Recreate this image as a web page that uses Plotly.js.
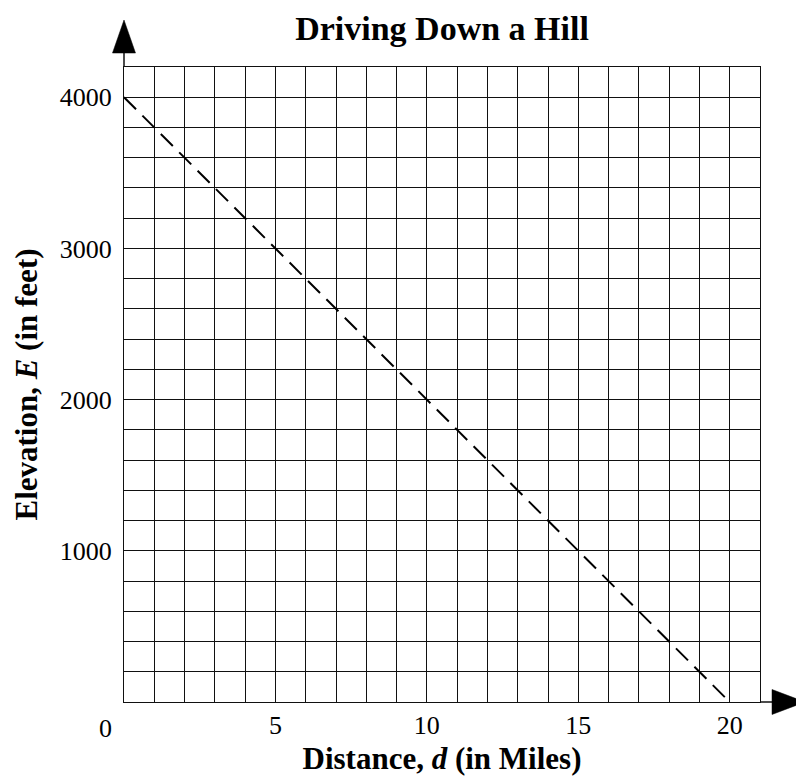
<!DOCTYPE html>
<html>
<head>
<meta charset="utf-8">
<script src="https://cdn.plot.ly/plotly-3.0.1.min.js"></script>
<style>html,body{margin:0;padding:0;background:#fff;}#chart{width:796px;height:781px;}</style>
</head>
<body>
<div id="chart"></div>
<script>
// Data
const distance = [0, 20];          // miles
const elevation = [4000, 0];       // feet
const xTickVals = [5, 10, 15, 20];
const xTickText = ['5', '10', '15', '20'];
const yTickVals = [1000, 2000, 3000, 4000];
const yTickText = ['1000', '2000', '3000', '4000'];
const titleText = 'Driving Down a Hill';
const xTitleText = 'Distance, <i>d</i> (in Miles)';
const yTitleText = 'Elevation, <i>E</i> (in feet)';

const SERIF = '"Liberation Serif", "Times New Roman", serif';
const INK = '#111';

const trace = {
  x: distance,
  y: elevation,
  type: 'scatter',
  mode: 'lines',
  line: {color: '#000', width: 2, dash: '17px,9px'},
  hoverinfo: 'skip',
  showlegend: false
};

const layout = {
  width: 796,
  height: 781,
  margin: {l: 124, r: 36, t: 67, b: 79, pad: 0},
  paper_bgcolor: '#fff',
  plot_bgcolor: '#fff',
  font: {family: SERIF, color: '#000', size: 26},
  title: {
    text: titleText,
    font: {family: SERIF, size: 34, color: '#000', weight: 'bold'},
    xref: 'paper', x: 0.5, xanchor: 'center',
    yref: 'container', y: 1 - 28 / 781, yanchor: 'middle'
  },
  xaxis: {
    range: [0, 21],
    tickmode: 'array', tickvals: xTickVals, ticktext: xTickText,
    ticks: '', showgrid: true, gridcolor: INK, gridwidth: 1,
    minor: {dtick: 1, tick0: 0, showgrid: true, gridcolor: INK, gridwidth: 1, ticks: ''},
    zeroline: false, showline: true, mirror: true, linecolor: INK, linewidth: 1,
    tickfont: {family: SERIF, size: 26, color: '#000'},
    ticklabelstandoff: 0,
    title: {text: xTitleText, font: {family: SERIF, size: 31, color: '#000', weight: 'bold'}, standoff: 8},
    fixedrange: true
  },
  yaxis: {
    range: [0, 4200],
    tickmode: 'array', tickvals: yTickVals, ticktext: yTickText,
    ticks: '', showgrid: true, gridcolor: INK, gridwidth: 1,
    minor: {dtick: 200, tick0: 0, showgrid: true, gridcolor: INK, gridwidth: 1, ticks: ''},
    zeroline: false, showline: true, mirror: true, linecolor: INK, linewidth: 1,
    tickfont: {family: SERIF, size: 26, color: '#000'},
    ticklabelstandoff: 6,
    title: {text: yTitleText, font: {family: SERIF, size: 31, color: '#000', weight: 'bold'}, standoff: 12},
    fixedrange: true
  },
  annotations: [{
    xref: 'x', yref: 'y', x: 0, y: 0,
    text: '0', showarrow: false,
    xanchor: 'right', yanchor: 'top', xshift: -10, yshift: -10,
    font: {family: SERIF, size: 26, color: '#000'}
  }],
  shapes: [
    // y-axis extension and arrowhead
    {type: 'line', xref: 'paper', yref: 'paper', x0: 0, x1: 0, y0: 1, y1: 1.024,
     line: {color: INK, width: 1.5}},
    {type: 'path', xref: 'paper', yref: 'paper',
     path: 'M -0.0181,1.022 L 0.0181,1.022 L 0,1.074 Z',
     fillcolor: '#000', line: {color: '#000', width: 0.5}},
    // x-axis extension and arrowhead
    {type: 'line', xref: 'paper', yref: 'paper', x0: 1, x1: 1.021, y0: 0, y1: 0,
     line: {color: INK, width: 1.5}},
    {type: 'path', xref: 'paper', yref: 'paper',
     path: 'M 1.0189,0.0197 L 1.0189,-0.0197 L 1.0708,0 Z',
     fillcolor: '#000', line: {color: '#000', width: 0.5}}
  ]
};

Plotly.newPlot('chart', [trace], layout, {staticPlot: true, displayModeBar: false});
</script>
</body>
</html>
